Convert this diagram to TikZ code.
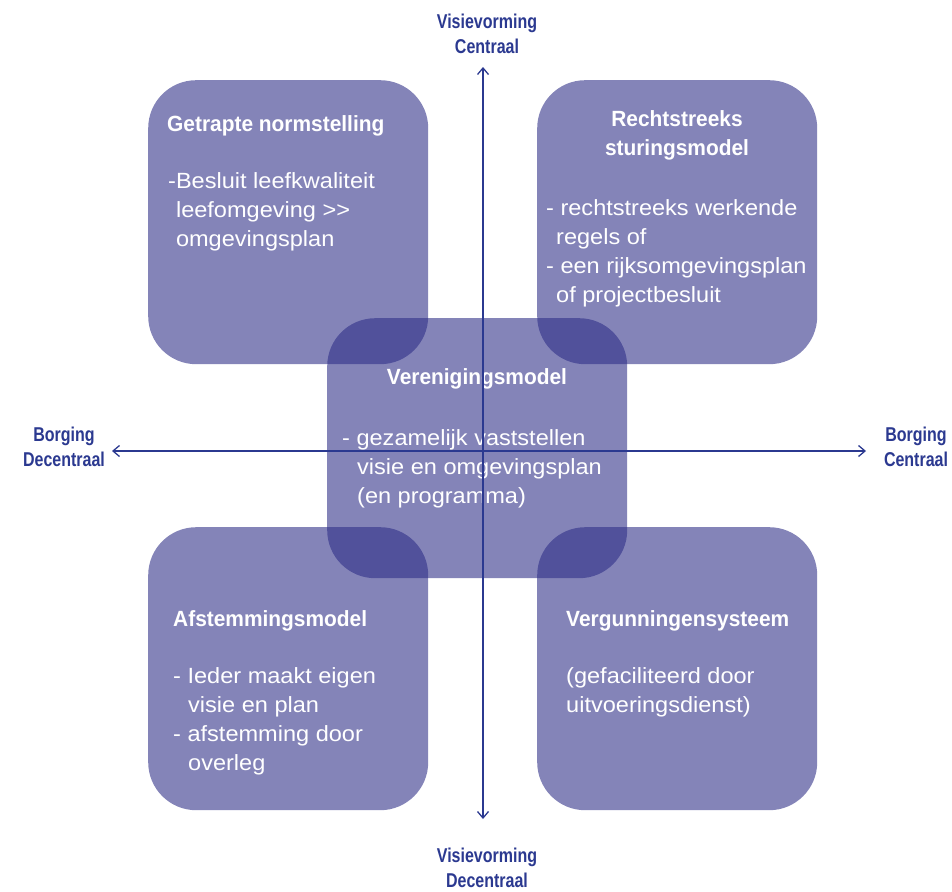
\documentclass[tikz,border=0pt]{standalone}
\usepackage{fontspec}
\setmainfont{Liberation Sans}[FakeStretch=1.07]
\newfontfamily\titlefont{Liberation Sans}[FakeStretch=0.95]
\newfontfamily\axisfont{Liberation Sans}[FakeStretch=0.8]
\usetikzlibrary{arrows.meta}
\definecolor{model blue}{RGB}{45,45,134}
\definecolor{axis blue}{RGB}{43,57,144}
\colorlet{model text}{white}
\tikzset{modelbox/.style={draw=none, fill=model blue, fill opacity=0.585,
        rounded corners=48pt, inner sep=0pt, anchor=north west},
    modeltitle/.style={text=model text, inner sep=0pt, font=\titlefont\bfseries\fontsize{22}{29}\selectfont},
    modelbody/.style={text=model text, inner sep=0pt, align=left, anchor=base west,
        font=\fontsize{22}{29}\selectfont},
    axislabel/.style={text=axis blue, inner sep=0pt, align=center,
        font=\axisfont\bfseries\fontsize{20}{25}\selectfont},
    axisline/.style={draw=axis blue, line width=1.3pt,
        {Straight Barb[length=6.5pt,width=11pt]}-{Straight Barb[length=6.5pt,width=11pt]}}}

\begin{document}
\begin{tikzpicture}[x=1pt, y=-1pt]
    \useasboundingbox (0,0) rectangle (952,891);
    % model boxes
    \node[modelbox, minimum width=280pt, minimum height=284pt] (getrapt) at (148,80) {};
    \node[modelbox, minimum width=280pt, minimum height=284pt] (rechtstreeks) at (537,80) {};
    \node[modelbox, minimum width=280pt, minimum height=283pt] (afstemming) at (148,527) {};
    \node[modelbox, minimum width=280pt, minimum height=283pt] (vergunning) at (537,527) {};
    \node[modelbox, minimum width=300pt, minimum height=260pt] (vereniging) at (327,318) {};
    % texts (base = last line)
    \node[modeltitle, anchor=base west] (getrapt title) at (167,131) {Getrapte normstelling};
    \node[modelbody] (getrapt body) at (168,246)
        {-Besluit leefkwaliteit\\\phantom{-}leefomgeving {>}{>}\\\phantom{-}omgevingsplan};
    \node[modeltitle, anchor=base, align=center] (rechtstreeks title) at (677,155)
        {Rechtstreeks\\sturingsmodel};
    \node[modelbody] (rechtstreeks body) at (546,302)
        {- rechtstreeks werkende\\\hspace{10pt}regels of\\- een rijksomgevingsplan\\\hspace{10pt}of projectbesluit};
    \node[modeltitle, anchor=base] (vereniging title) at (477,384) {Verenigingsmodel};
    \node[modelbody] (vereniging body) at (342,503)
        {- gezamelijk vaststellen\\\hspace{15pt}visie en omgevingsplan\\\hspace{15pt}(en programma)};
    \node[modeltitle, anchor=base west] (afstemming title) at (173,626) {Afstemmingsmodel};
    \node[modelbody] (afstemming body) at (173,770)
        {- Ieder maakt eigen\\\hspace{15pt}visie en plan\\- afstemming door\\\hspace{15pt}overleg};
    \node[modeltitle, anchor=base west] (vergunning title) at (566,626) {Vergunningensysteem};
    \node[modelbody] (vergunning body) at (566,712)
        {(gefaciliteerd door\\uitvoeringsdienst)};
    % axes
    \node[axislabel] (visie centraal) at (487,34) {Visievorming\\Centraal};
    \node[axislabel] (visie decentraal) at (487,868) {Visievorming\\Decentraal};
    \node[axislabel] (borging decentraal) at (64,447) {Borging\\Decentraal};
    \node[axislabel] (borging centraal) at (916,447) {Borging\\Centraal};
    \coordinate (north end) at (483,67);
    \coordinate (south end) at (483,819);
    \coordinate (west end) at (112,451);
    \coordinate (east end) at (866,451);
    \draw[axisline] (south end) -- (north end);
    \draw[axisline] (west end) -- (east end);
\end{tikzpicture}
\end{document}
